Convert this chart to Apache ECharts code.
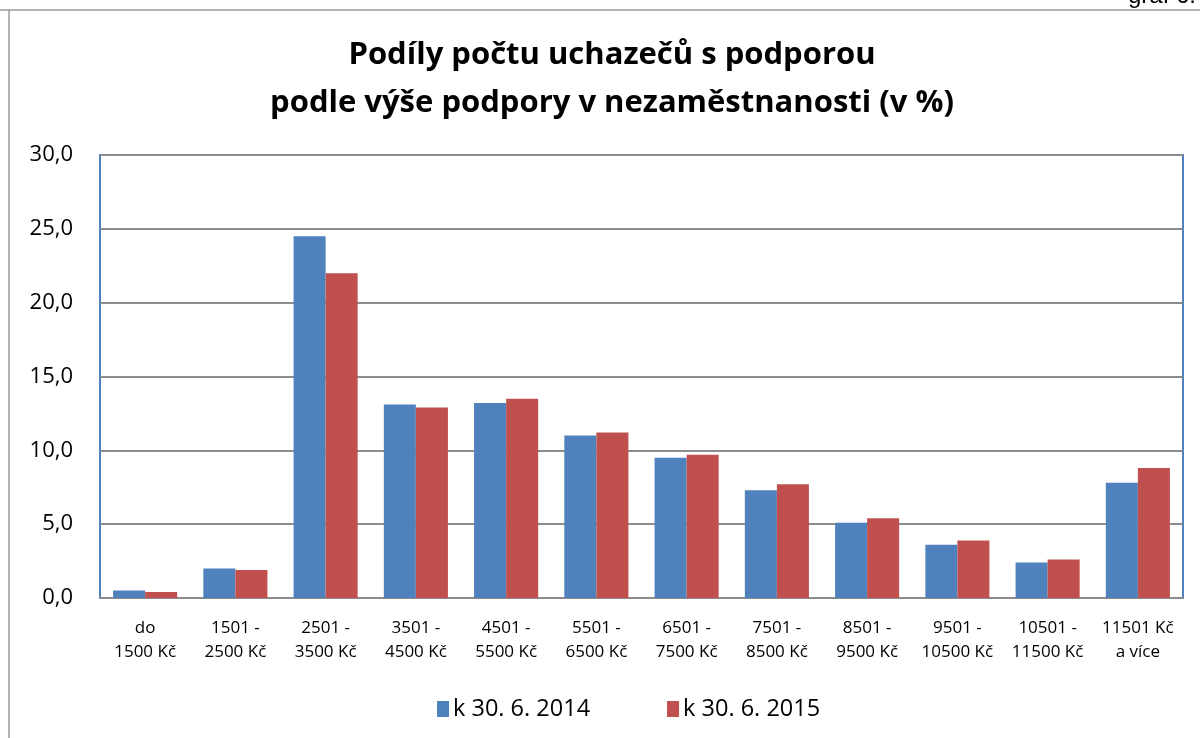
<!DOCTYPE html>
<html><head><meta charset="utf-8">
<script src="https://cdn.jsdelivr.net/npm/echarts@6/dist/echarts.min.js"></script>
<style>html,body{margin:0;padding:0;background:#fff}#c{width:1200px;height:738px}</style>
</head><body><div id="c"></div>
<script>
const categories = ['do\n1500 Kč','1501 -\n2500 Kč','2501 -\n3500 Kč','3501 -\n4500 Kč','4501 -\n5500 Kč','5501 -\n6500 Kč','6501 -\n7500 Kč','7501 -\n8500 Kč','8501 -\n9500 Kč','9501 -\n10500 Kč','10501 -\n11500 Kč','11501 Kč\na více'];
const series2014 = [0.5, 2.0, 24.5, 13.1, 13.2, 11.0, 9.5, 7.3, 5.1, 3.6, 2.4, 7.8];
const series2015 = [0.4, 1.9, 22.0, 12.9, 13.5, 11.2, 9.7, 7.7, 5.4, 3.9, 2.6, 8.8];
const seriesNames = ['k 30. 6. 2014', 'k 30. 6. 2015'];
const titleLines = ['Podíly počtu uchazečů s podporou', 'podle výše podpory v nezaměstnanosti (v %)'];

const FONT = '"Open Sans", "Noto Sans", sans-serif';
const chart = echarts.init(document.getElementById('c'), null, {renderer: 'canvas'});
chart.setOption({
  animation: false,
  backgroundColor: '#fff',
  title: {
    text: titleLines.join('\n'),
    left: 607, top: 26, textAlign: 'center',
    textStyle: {fontFamily: FONT, fontSize: 31, fontWeight: 'bold', color: '#000', lineHeight: 48}
  },
  graphic: [
    {type: 'line', shape: {x1: 0, y1: 10, x2: 1200, y2: 10}, style: {stroke: '#9a9a9a', lineWidth: 1.5}},
    {type: 'line', shape: {x1: 9, y1: 10, x2: 9, y2: 738}, style: {stroke: '#9a9a9a', lineWidth: 1.5}},
    {type: 'text', right: 4, top: -16, style: {text: 'graf 6.', font: '24px "Liberation Sans", Arial, sans-serif', fill: '#000'}}
  ],
  legend: {
    data: seriesNames,
    left: 432, top: 692,
    itemWidth: 12, itemHeight: 16, itemGap: 77,
    icon: 'rect',
    textStyle: {fontFamily: FONT, fontSize: 23.5, color: '#000', padding: [0,0,0,-1]}
  },
  grid: {
    left: 100, right: 17, top: 155, bottom: 140,
    show: true, borderColor: '#4f81bd', borderWidth: 2, containLabel: false
  },
  xAxis: {
    type: 'category', data: categories,
    axisLine: {show: true, lineStyle: {color: '#8c8c8c', width: 2}},
    axisTick: {show: false},
    axisLabel: {fontFamily: FONT, fontSize: 17, color: '#000', lineHeight: 24, margin: 18, interval: 0}
  },
  yAxis: {
    type: 'value', min: 0, max: 30, interval: 5,
    axisLine: {show: false}, axisTick: {show: false},
    splitLine: {lineStyle: {color: '#8c8c8c', width: 2}},
    axisLabel: {fontFamily: FONT, fontSize: 22, color: '#000', margin: 27,
      formatter: v => v.toFixed(1).replace('.', ',')}
  },
  series: [
    {name: seriesNames[0], type: 'bar', data: series2014, barGap: '0%', barCategoryGap: '29%',
      itemStyle: {color: '#4f81bd'}},
    {name: seriesNames[1], type: 'bar', data: series2015, barGap: '0%', barCategoryGap: '29%',
      itemStyle: {color: '#c0504d'}}
  ]
});
</script></body></html>
